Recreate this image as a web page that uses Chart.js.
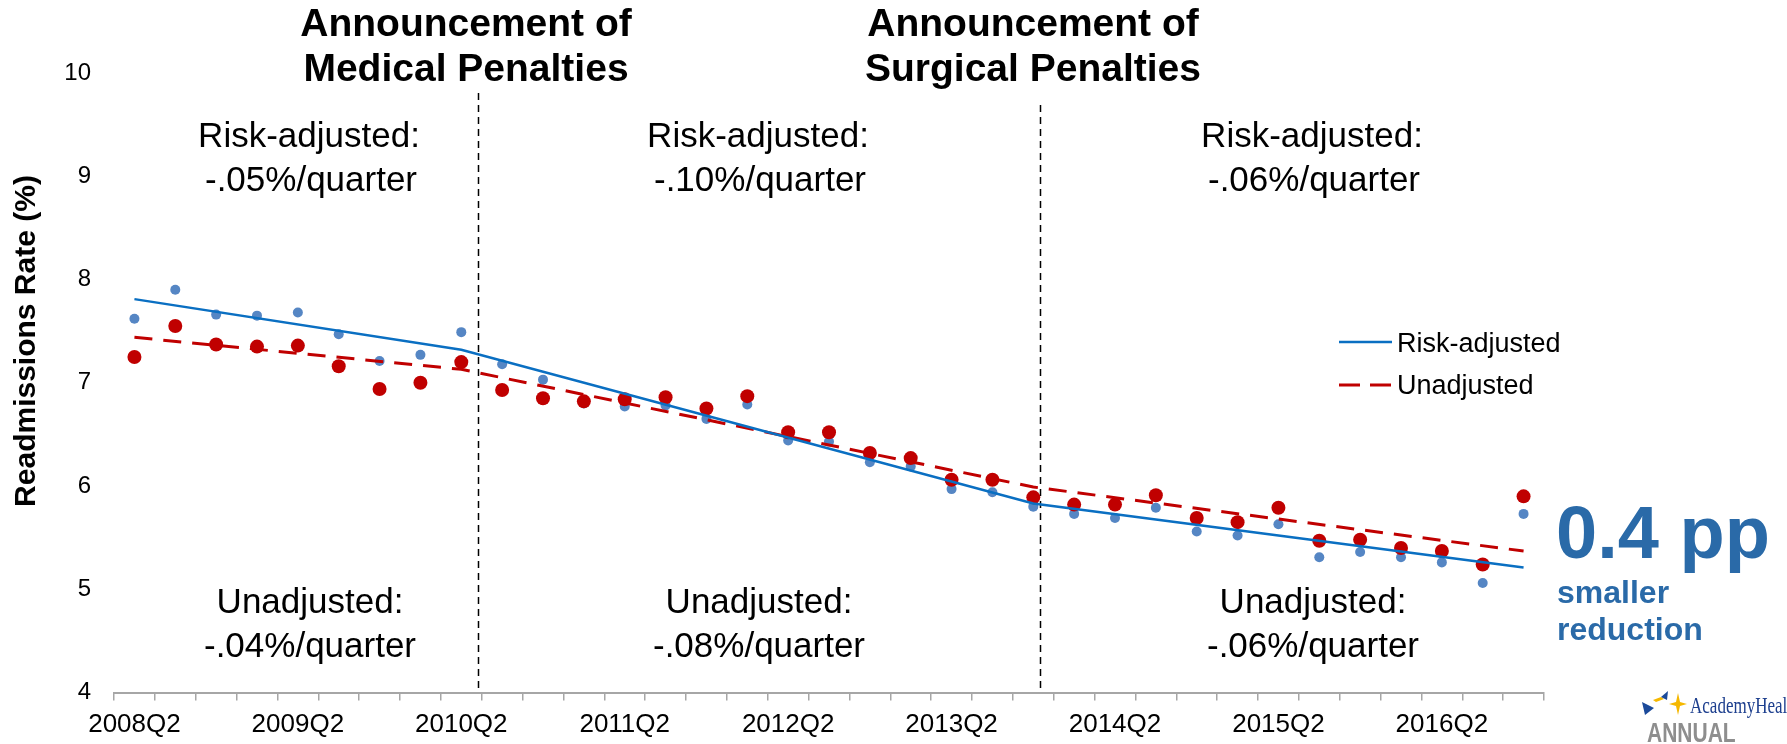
<!DOCTYPE html>
<html>
<head>
<meta charset="utf-8">
<title>Readmissions rate by quarter</title>
<script src="https://cdn.jsdelivr.net/npm/chart.js@4.4.1/dist/chart.umd.min.js"></script>
<style>
  html, body { margin: 0; padding: 0; background: #fff; }
  #wrap { width: 1787px; height: 744px; position: relative; }
</style>
</head>
<body>
<div id="wrap"><canvas id="readmitChart" width="1787" height="744"></canvas></div>
<script>
const quarters = [
    '2008Q2', '2008Q3', '2008Q4',
    '2009Q1', '2009Q2', '2009Q3', '2009Q4',
    '2010Q1', '2010Q2', '2010Q3', '2010Q4',
    '2011Q1', '2011Q2', '2011Q3', '2011Q4',
    '2012Q1', '2012Q2', '2012Q3', '2012Q4',
    '2013Q1', '2013Q2', '2013Q3', '2013Q4',
    '2014Q1', '2014Q2', '2014Q3', '2014Q4',
    '2015Q1', '2015Q2', '2015Q3', '2015Q4',
    '2016Q1', '2016Q2', '2016Q3', '2016Q4',
];

// quarterly readmission rates (%)
const riskAdjusted = [
    7.62, 7.90, 7.66, 7.65, 7.68, 7.47, 7.21, 7.27, 7.49, 7.18, 7.03, 6.80,
    6.77, 6.78, 6.65, 6.79, 6.44, 6.43, 6.23, 6.19, 5.97, 5.94, 5.80, 5.73,
    5.69, 5.79, 5.56, 5.52, 5.63, 5.31, 5.36, 5.31, 5.26, 5.06, 5.73,
];
const unadjusted = [
    7.25, 7.55, 7.37, 7.35, 7.36, 7.16, 6.94, 7.00, 7.20, 6.93, 6.85, 6.82,
    6.84, 6.86, 6.75, 6.87, 6.52, 6.52, 6.32, 6.27, 6.06, 6.06, 5.89, 5.82,
    5.82, 5.91, 5.69, 5.65, 5.79, 5.47, 5.48, 5.40, 5.37, 5.24, 5.90,
];

// segmented trend fits: values at the joinpoints only
const trendQuarters = ['2008Q2', '2010Q2', '2013Q4', '2016Q4'];
const riskTrend = [7.81, 7.32, 5.83, 5.21];
const unadjTrend = [7.44, 7.13, 5.99, 5.37];

// penalty announcements, in quarter-index units
const policyMarks = [8.4, 22.17];
const policyTitles = [
    ['Announcement of', 'Medical Penalties'],
    ['Announcement of', 'Surgical Penalties'],
];
const riskSlopes = ['-.05%/quarter', '-.10%/quarter', '-.06%/quarter'];
const unadjSlopes = ['-.04%/quarter', '-.08%/quarter', '-.06%/quarter'];

const FONT = '"Liberation Sans", Arial, Helvetica, sans-serif';
const BLUE_LINE = '#0a6fc2';
const BLUE_DOT = '#5586c4';
const RED = '#c00000';
const NOTE_BLUE = '#2a6aa8';

Chart.defaults.font.family = FONT;
Chart.defaults.color = '#000';

const toPoints = (xs, ys) => xs.map((q, i) => ({ x: q, y: ys[i] }));

// Text, legend and policy lines drawn on top of the chart
const annotationsPlugin = {
    id: 'annotations',
    beforeDatasetsDraw(chart) {
        const { ctx, chartArea } = chart;
        const xScale = chart.scales.x;
        const tops = [93, 105];
        ctx.save();
        ctx.strokeStyle = '#000';
        ctx.lineWidth = 1.5;
        ctx.setLineDash([7, 5]);
        policyMarks.forEach((m, i) => {
            const px = Math.round(xScale.getPixelForValue(m)) + 0.5;
            ctx.beginPath();
            ctx.moveTo(px, tops[i]);
            ctx.lineTo(px, chartArea.bottom);
            ctx.stroke();
        });
        ctx.restore();
    },
    afterDraw(chart) {
        const { ctx } = chart;
        ctx.save();
        ctx.fillStyle = '#000';
        ctx.textAlign = 'center';
        ctx.textBaseline = 'alphabetic';

        // policy headings
        ctx.font = `bold 39px ${FONT}`;
        [466, 1033].forEach((cx, i) => {
            ctx.fillText(policyTitles[i][0], cx, 36);
            ctx.fillText(policyTitles[i][1], cx, 81);
        });

        // slope notes per period
        ctx.font = `35px ${FONT}`;
        const noteX = [309, 758, 1312];
        noteX.forEach((cx, i) => {
            ctx.fillText('Risk-adjusted:', cx, 147);
            ctx.fillText(riskSlopes[i], cx + 2, 191);
            ctx.fillText('Unadjusted:', cx + 1, 613);
            ctx.fillText(unadjSlopes[i], cx + 1, 657);
        });

        // y axis title
        ctx.save();
        ctx.translate(27, 341);
        ctx.rotate(-Math.PI / 2);
        ctx.font = `bold 30px ${FONT}`;
        ctx.textBaseline = 'middle';
        ctx.fillText('Readmissions Rate (%)', 0, 0);
        ctx.restore();

        // legend
        ctx.textAlign = 'left';
        ctx.font = `27px ${FONT}`;
        ctx.lineWidth = 2.5;
        ctx.strokeStyle = BLUE_LINE;
        ctx.beginPath();
        ctx.moveTo(1339, 342);
        ctx.lineTo(1392, 342);
        ctx.stroke();
        ctx.fillText('Risk-adjusted', 1397, 352);
        ctx.strokeStyle = RED;
        ctx.lineWidth = 3;
        ctx.setLineDash([21, 10]);
        ctx.beginPath();
        ctx.moveTo(1339, 385);
        ctx.lineTo(1392, 385);
        ctx.stroke();
        ctx.setLineDash([]);
        ctx.fillText('Unadjusted', 1397, 394);

        // callout
        ctx.fillStyle = NOTE_BLUE;
        ctx.font = `bold 74px ${FONT}`;
        ctx.fillText('0.4 pp', 1556, 558);
        ctx.font = `bold 32px ${FONT}`;
        ctx.fillText('smaller', 1557, 603);
        ctx.fillText('reduction', 1557, 640);

        // conference logo
        ctx.fillStyle = '#1b4a9a';
        ctx.beginPath();
        ctx.moveTo(1642, 702);
        ctx.lineTo(1654, 708);
        ctx.lineTo(1645, 715);
        ctx.closePath();
        ctx.fill();
        ctx.fillStyle = '#f5b800';
        ctx.beginPath();
        ctx.moveTo(1653, 700);
        ctx.lineTo(1661, 697);
        ctx.lineTo(1664, 699);
        ctx.lineTo(1656, 702);
        ctx.closePath();
        ctx.fill();
        ctx.fillStyle = '#1b4a9a';
        ctx.beginPath();
        ctx.moveTo(1661, 697);
        ctx.lineTo(1668, 691);
        ctx.lineTo(1667, 700);
        ctx.closePath();
        ctx.fill();
        ctx.fillStyle = '#f5b800';
        ctx.beginPath();
        const sx = 1678, sy = 704;
        ctx.moveTo(sx, sy - 11);
        ctx.lineTo(sx + 2, sy - 2);
        ctx.lineTo(sx + 9, sy);
        ctx.lineTo(sx + 2, sy + 2);
        ctx.lineTo(sx, sy + 11);
        ctx.lineTo(sx - 2, sy + 2);
        ctx.lineTo(sx - 9, sy);
        ctx.lineTo(sx - 2, sy - 2);
        ctx.closePath();
        ctx.fill();

        ctx.save();
        ctx.translate(1690, 713);
        ctx.scale(0.74, 1);
        ctx.fillStyle = '#1d3f8e';
        ctx.font = '23px "Liberation Serif", "Times New Roman", serif';
        ctx.fillText('AcademyHealth', 0, 0);
        ctx.restore();

        ctx.save();
        ctx.translate(1647, 742);
        ctx.scale(0.75, 1);
        ctx.fillStyle = '#8e8e8e';
        ctx.font = `bold 28px ${FONT}`;
        ctx.fillText('ANNUAL', 0, 0);
        ctx.restore();

        ctx.restore();
    },
};

const config = {
    type: 'line',
    data: {
        labels: quarters,
        datasets: [
            {
                label: 'Risk-adjusted',
                data: toPoints(trendQuarters, riskTrend),
                borderColor: BLUE_LINE,
                borderWidth: 2.5,
                pointRadius: 0,
                tension: 0,
            },
            {
                label: 'Unadjusted',
                data: toPoints(trendQuarters, unadjTrend),
                borderColor: RED,
                borderWidth: 3,
                borderDash: [18, 11],
                pointRadius: 0,
                tension: 0,
            },
            {
                label: 'Unadjusted (quarterly)',
                data: unadjusted,
                showLine: false,
                pointRadius: 7,
                pointBackgroundColor: RED,
                pointBorderWidth: 0,
            },
            {
                label: 'Risk-adjusted (quarterly)',
                data: riskAdjusted,
                showLine: false,
                pointRadius: 5,
                pointBackgroundColor: BLUE_DOT,
                pointBorderWidth: 0,
            },
        ],
    },
    options: {
        responsive: false,
        animation: false,
        devicePixelRatio: 1,
        layout: { padding: { top: 73, right: 243, left: 0, bottom: 0 } },
        plugins: {
            legend: { display: false },
            tooltip: { enabled: false },
        },
        scales: {
            x: {
                type: 'category',
                offset: true,
                grid: {
                    offset: true,
                    drawOnChartArea: false,
                    drawTicks: true,
                    tickLength: 8,
                    color: '#a6a6a6',
                    lineWidth: 1.5,
                },
                border: { display: true, color: '#a6a6a6', width: 2 },
                ticks: {
                    autoSkip: false,
                    maxRotation: 0,
                    padding: 9,
                    color: '#000',
                    font: { size: 26 },
                    callback: (val, i) => (quarters[i].endsWith('Q2') ? quarters[i] : ''),
                },
                afterFit(scale) { scale.height = 51.5; },
            },
            y: {
                min: 4,
                max: 10,
                grid: { display: false, drawTicks: false },
                border: { display: false },
                ticks: { stepSize: 1, padding: 23, color: '#000', font: { size: 24 } },
                afterFit(scale) { scale.width = 114; },
            },
        },
    },
    plugins: [annotationsPlugin],
};

const readmitChart = new Chart(document.getElementById('readmitChart'), config);
</script>
</body>
</html>
